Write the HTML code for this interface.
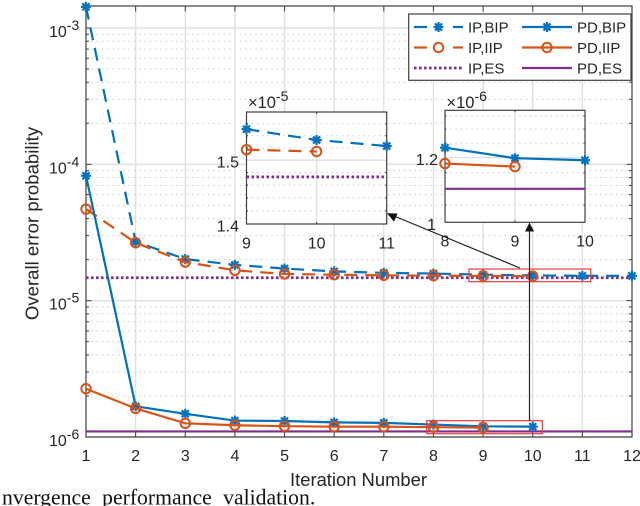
<!DOCTYPE html>
<html lang="en">
<head>
<meta charset="utf-8">
<title>Convergence performance validation</title>
<style>
html,body{margin:0;padding:0;background:#fff;width:640px;height:506px;overflow:hidden}
svg{display:block;filter:blur(0.35px)}
text{font-family:"Liberation Sans",sans-serif;fill:#262626}
</style>
</head>
<body>
<svg id="chart" xmlns="http://www.w3.org/2000/svg" width="640" height="506" viewBox="0 0 640 506"></svg>
<script>
const categories = [1, 2, 3, 4, 5, 6, 7, 8, 9, 10, 11, 12];
const ipBipValues = [1.43e-3, 2.71e-5, 2.02e-5, 1.83e-5, 1.72e-5, 1.64e-5, 1.60e-5, 1.58e-5, 1.551e-5, 1.533e-5, 1.523e-5, 1.52e-5];
const ipIipValues = [4.7e-5, 2.66e-5, 1.92e-5, 1.67e-5, 1.57e-5, 1.55e-5, 1.535e-5, 1.525e-5, 1.517e-5, 1.514e-5];
const pdBipValues = [8.25e-5, 1.68e-6, 1.48e-6, 1.32e-6, 1.31e-6, 1.28e-6, 1.27e-6, 1.234e-6, 1.198e-6, 1.191e-6];
const pdIipValues = [2.26e-6, 1.62e-6, 1.26e-6, 1.22e-6, 1.2e-6, 1.19e-6, 1.19e-6, 1.18e-6, 1.17e-6];
const ipEsValue = [1.473e-5];
const pdEsValue = [1.099e-6];
const yTickExponents = [-3, -4, -5, -6];
const yMinorMultipliers = [2, 3, 4, 5, 6, 7, 8, 9];
const inset1XTicks = [9, 10, 11];
const inset1YTicks = [1.4, 1.5];
const inset1YMinor = [1.42, 1.44, 1.46, 1.48, 1.52, 1.54, 1.56];
const inset2XTicks = [8, 9, 10];
const inset2YTicks = [1, 1.2];
const inset2YMinor = [1.05, 1.1, 1.15, 1.25, 1.3, 1.35];
const legendLabels = ["IP,BIP", "IP,IIP", "IP,ES", "PD,BIP", "PD,IIP", "PD,ES"];

const BLUE = "#0072BD", ORANGE = "#D95319", PURPLE = "#7E2F8E", INK = "#404040";
const svg = document.getElementById("chart");
const NS = "http://www.w3.org/2000/svg";

function shape(parent, tag, props) {
  const el = document.createElementNS(NS, tag);
  for (const k in props) el.setAttribute(k, props[k]);
  parent.appendChild(el);
  return el;
}
function linearScale(d0, d1, p0, p1) { return v => p0 + (v - d0) / (d1 - d0) * (p1 - p0); }
function logScale(d0, d1, p0, p1) { return v => p0 + (Math.log10(v) - Math.log10(d0)) / (Math.log10(d1) - Math.log10(d0)) * (p1 - p0); }

function addStar(parent, cx, cy, color, r) {
  const g = shape(parent, "g", { stroke: color, "stroke-width": 2.2, fill: "none" });
  
  
  [0, 45, 90, 135].forEach(a => {
    const dx = Math.cos(a * Math.PI / 180) * r, dy = Math.sin(a * Math.PI / 180) * r;
    shape(g, "line", { x1: cx - dx, y1: cy - dy, x2: cx + dx, y2: cy + dy });
  });
  return g;
}
function addCircle(parent, cx, cy, color, r) {
  const c = shape(parent, "circle", { cx: cx, cy: cy, r: r, fill: "none", stroke: color, "stroke-width": 2 });
  
  
  return c;
}
function addSeries(parent, name, xs, ys, sx, sy, color, dash, marker, xMin, xMax) {
  const g = shape(parent, "g", {});
  
  
  const pts = [];
  xs.forEach((x, i) => { if (i < ys.length && x >= xMin && x <= xMax) pts.push([sx(x), sy(ys[i])]); });
  const line = shape(g, "polyline", { points: pts.map(p => p[0] + "," + p[1]).join(" "), fill: "none", stroke: color, "stroke-width": 2.2 });
  
  
  if (dash) line.setAttribute("stroke-dasharray", dash);
  pts.forEach(p => {
    if (marker === "star") addStar(g, p[0], p[1], color, 5);
    else addCircle(g, p[0], p[1], color, 4.7);
  });
}
function addFlatLine(parent, name, x0, x1, y, color, dotted) {
  const l = shape(parent, "line", { x1: x0, x2: x1, y1: y, y2: y, stroke: color, "stroke-width": dotted ? 2.8 : 2.1 });
  
  
  if (dotted) l.setAttribute("stroke-dasharray", "2.6 2.4");
}
function addLabel(parent, name, x, y, str, size, anchor) {
  const t = shape(parent, "text", { x: x, y: y, "font-size": size, "text-anchor": anchor || "middle" });
  
  
  t.textContent = str;
  return t;
}
function addSciLabel(parent, name, x, y, prefix, exp, size, supSize, anchor) {
  const t = addLabel(parent, name, x, y, prefix, size, anchor);
  const s = shape(t, "tspan", { dy: -7, "font-size": supSize });
  s.textContent = exp;
  return t;
}
function gridLine(parent, name, x1, y1, x2, y2, minor) {
  const l = shape(parent, "line", { x1: x1, y1: y1, x2: x2, y2: y2, stroke: minor ? "#c4c4c4" : "#e0e0e0", "stroke-width": minor ? 1 : 1.4 });
  
  
  if (minor) l.setAttribute("stroke-dasharray", "1.3 4");
}
function tick(parent, name, x1, y1, x2, y2) {
  const l = shape(parent, "line", { x1: x1, y1: y1, x2: x2, y2: y2, stroke: INK, "stroke-width": 1 });
  
  
}
function frame(parent, name, L, T, R, B) {
  const r = shape(parent, "rect", { x: L, y: T, width: R - L, height: B - T, fill: "none", stroke: INK, "stroke-width": 1.2 });
  
  
}

/* ---------- main axes ---------- */
const L = 86, R = 632, T = 6, B = 437;
const x = linearScale(1, 12, L, R);
const y = logScale(1e-6, 1e-3, B, 28);

const mainGrid = shape(svg, "g", {});


yTickExponents.forEach(e => {
  yMinorMultipliers.forEach(m => {
    const v = m * Math.pow(10, e);
    if (y(v) > T) gridLine(mainGrid, "y-minor-gridline", L, y(v), R, y(v), true);
  });
});
categories.slice(1, -1).forEach(c => gridLine(mainGrid, "x-gridline", x(c), T, x(c), B, false));
yTickExponents.forEach(e => gridLine(mainGrid, "y-gridline", L, y(Math.pow(10, e)), R, y(Math.pow(10, e)), false));

const mainTicks = shape(svg, "g", {});


categories.forEach(c => {
  tick(mainTicks, "x-tick", x(c), B, x(c), B - 5.5);
  tick(mainTicks, "x-tick-top", x(c), T, x(c), T + 5.5);
  addLabel(svg, "x-tick-label", x(c), 461, String(c), 16);
});
yTickExponents.forEach(e => {
  const v = Math.pow(10, e);
  tick(mainTicks, "y-tick", L, y(v), L + 5.5, y(v));
  tick(mainTicks, "y-tick-right", R, y(v), R - 5.5, y(v));
  yMinorMultipliers.forEach(m => {
    const w = m * v;
    if (y(w) > T) {
      tick(mainTicks, "y-minor-tick", L, y(w), L + 3, y(w));
      tick(mainTicks, "y-minor-tick-right", R, y(w), R - 3, y(w));
    }
  });
  addSciLabel(svg, "y-tick-label", 49, y(v) + 9, "10", String(e), 16, 14, "start");
});
frame(svg, "main-axes-frame", L, T, R, B);

addFlatLine(svg, "series-ip-es", L, R, y(ipEsValue[0]), PURPLE, true);
addFlatLine(svg, "series-pd-es", L, R, y(pdEsValue[0]), PURPLE, false);
addSeries(svg, "series-ip-bip", categories, ipBipValues, x, y, BLUE, "13 8", "star", 1, 12);
addSeries(svg, "series-ip-iip", categories, ipIipValues, x, y, ORANGE, "13 8", "circle", 1, 12);
addSeries(svg, "series-pd-bip", categories, pdBipValues, x, y, BLUE, "", "star", 1, 12);
addSeries(svg, "series-pd-iip", categories, pdIipValues, x, y, ORANGE, "", "circle", 1, 12);

addLabel(svg, "x-axis-title", 358.5, 486, "Iteration Number", 18.4);
const yTitle = addLabel(svg, "y-axis-title", 0, 0, "Overall error probability", 18.6);
yTitle.setAttribute("transform", "translate(38.5 223.5) rotate(-90)");

/* ---------- zoom region rectangles ---------- */
const zoomUpper = shape(svg, "rect", { x: 469, y: 269, width: 121.7, height: 12.7, fill: "none", stroke: "#f03a3a", "stroke-width": 1.2 });


const zoomLower = shape(svg, "rect", { x: 426.7, y: 420.7, width: 115.6, height: 13, fill: "none", stroke: "#f03a3a", "stroke-width": 1.2 });



/* ---------- insets ---------- */
function drawInset(name, box, xDomain, yDomain, xTicks, yTicks, yMinor, exp, scale, labelsRight, xLabelY, drawSeries) {
  const g = shape(svg, "g", {});
  
  
  const bg = shape(g, "rect", { x: box.L, y: box.T, width: box.R - box.L, height: box.B - box.T, fill: "#fff" });
  
  
  const sx = linearScale(xDomain[0], xDomain[1], box.L, box.R);
  const sy = logScale(yDomain[0] * scale, yDomain[1] * scale, box.B, box.T);
  yMinor.forEach(v => gridLine(g, name + "-y-minor-gridline", box.L, sy(v * scale), box.R, sy(v * scale), true));
  xTicks.slice(1, -1).forEach(v => gridLine(g, name + "-x-gridline", sx(v), box.T, sx(v), box.B, false));
  yTicks.forEach(v => { if (v !== yDomain[0]) gridLine(g, name + "-y-gridline", box.L, sy(v * scale), box.R, sy(v * scale), false); });
  xTicks.forEach(v => {
    tick(g, name + "-x-tick", sx(v), box.B, sx(v), box.B - 2);
    tick(g, name + "-x-tick-top", sx(v), box.T, sx(v), box.T + 2);
    addLabel(g, name + "-x-tick-label", sx(v), xLabelY, String(v), 16);
  });
  yMinor.forEach(v => {
    tick(g, name + "-y-minor-tick", box.L, sy(v * scale), box.L + 1.5, sy(v * scale));
    tick(g, name + "-y-minor-tick-right", box.R, sy(v * scale), box.R - 1.5, sy(v * scale));
  });
  yTicks.forEach((v, i) => {
    addLabel(g, name + "-y-tick-label", labelsRight[i], sy(v * scale) + 7.5, String(v), 16, "end");
  });
  frame(g, name + "-frame", box.L, box.T, box.R, box.B);
  drawSeries(g, sx, sy, box);
  const m = addLabel(g, name + "-multiplier", box.L + 1.5, 108, "\u00D710", 16.5, "start");
  const s = shape(m, "tspan", { dy: -7, "font-size": 14 });
  s.textContent = exp;
}

drawInset("inset-ip", { L: 246.5, T: 112, R: 386.7, B: 224 }, [9, 11], [1.4, 1.58], inset1XTicks, inset1YTicks, inset1YMinor, "-5", 1e-5, [239, 239], 248.5, (g, sx, sy, b) => {
  addFlatLine(g, "inset-ip-es", b.L, b.R, sy(ipEsValue[0]), PURPLE, true);
  addSeries(g, "inset-ip-bip", categories, ipBipValues, sx, sy, BLUE, "13 8", "star", 9, 11);
  addSeries(g, "inset-ip-iip", categories, ipIipValues, sx, sy, ORANGE, "13 8", "circle", 9, 11);
});
drawInset("inset-pd", { L: 445, T: 110.3, R: 585, B: 222.3 }, [8, 10], [1, 1.371], inset2XTicks, inset2YTicks, inset2YMinor, "-6", 1e-6, [436, 438], 246.5, (g, sx, sy, b) => {
  addFlatLine(g, "inset-pd-es", b.L, b.R, sy(pdEsValue[0]), PURPLE, false);
  addSeries(g, "inset-pd-bip", categories, pdBipValues, sx, sy, BLUE, "", "star", 8, 10);
  addSeries(g, "inset-pd-iip", categories, pdIipValues, sx, sy, ORANGE, "", "circle", 8, 10);
});

/* ---------- arrows ---------- */
const arrowV = shape(svg, "line", { x1: 529.5, y1: 421, x2: 529.5, y2: 230, stroke: "#222", "stroke-width": 1.2 });


const arrowVHead = shape(svg, "polygon", { points: "529.5,222.5 525,231.5 534,231.5", fill: "#111" });


const arrowD = shape(svg, "line", { x1: 520, y1: 268, x2: 394, y2: 216, stroke: "#222", "stroke-width": 1.2 });


const arrowDHead = shape(svg, "polygon", { points: "387,213.3 397.5,213.5 394,221.8", fill: "#111" });



/* ---------- legend ---------- */
const legend = shape(svg, "g", {});


const legendBox = shape(legend, "rect", { x: 408.7, y: 14, width: 222.3, height: 66.3, fill: "#fff", stroke: INK, "stroke-width": 1.2 });


const rowY = [27, 47.5, 68];
const colX = [[414, 463, 468], [522, 572, 577]];
const styles = [
  { c: BLUE, kind: "dash", m: "star" }, { c: ORANGE, kind: "dash", m: "circle" }, { c: PURPLE, kind: "dot" },
  { c: BLUE, kind: "solid", m: "star" }, { c: ORANGE, kind: "solid", m: "circle" }, { c: PURPLE, kind: "solid" }
];
legendLabels.forEach((lab, i) => {
  const cx = colX[Math.floor(i / 3)], ry = rowY[i % 3], st = styles[i];
  const e = shape(legend, "g", {});
  
  
  const mid = (cx[0] + cx[1]) / 2;
  if (st.kind === "dash") {
    shape(e, "line", { x1: cx[0], x2: cx[0] + 13, y1: ry, y2: ry, stroke: st.c, "stroke-width": 2.2 });
    shape(e, "line", { x1: cx[1] - 10, x2: cx[1], y1: ry, y2: ry, stroke: st.c, "stroke-width": 2.2 });
  } else if (st.kind === "dot") {
    shape(e, "line", { x1: cx[0], x2: cx[1], y1: ry, y2: ry, stroke: st.c, "stroke-width": 2.8, "stroke-dasharray": "2.6 2.4" });
  } else {
    shape(e, "line", { x1: cx[0], x2: cx[1], y1: ry, y2: ry, stroke: st.c, "stroke-width": 2.2 });
  }
  if (st.m === "star") addStar(e, mid, ry, st.c, 5);
  if (st.m === "circle") addCircle(e, mid, ry, st.c, 4.7);
  addLabel(e, "legend-label", cx[2], ry + 5.5, lab, 15, "start");
});

/* ---------- cropped caption ---------- */
const caption = addLabel(svg, "figure-caption", 2, 504.3, "nvergence performance validation.", 21.7, "start");
caption.setAttribute("style", "font-family:'Liberation Serif',serif;fill:#111;word-spacing:6px");
</script>
</body>
</html>
